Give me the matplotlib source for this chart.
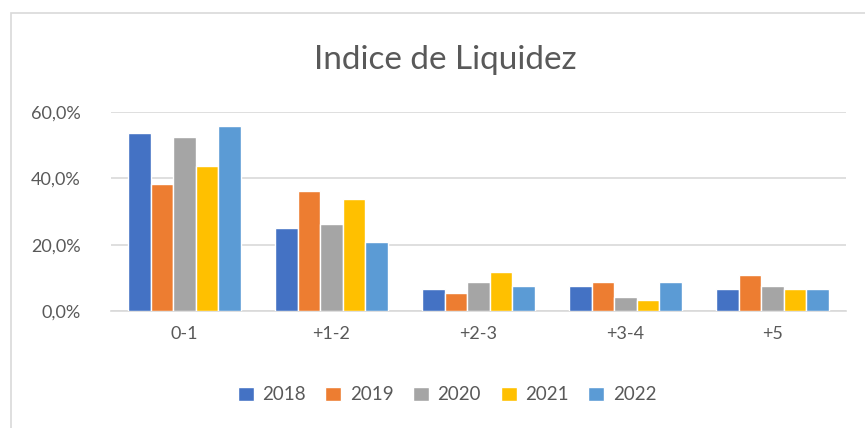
import matplotlib

matplotlib.use("Agg")

import matplotlib.pyplot as plt  # noqa: E402
import numpy as np  # noqa: E402
from matplotlib.patches import Rectangle  # noqa: E402
from matplotlib.ticker import FuncFormatter  # noqa: E402

plt.rcParams["font.family"] = ["Lato", "DejaVu Sans"]

categories = ["0-1", "+1-2", "+2-3", "+3-4", "+5"]
years = ["2018", "2019", "2020", "2021", "2022"]
v2018 = [0.537, 0.251, 0.065, 0.075, 0.065]
v2019 = [0.383, 0.363, 0.054, 0.087, 0.110]
v2020 = [0.526, 0.263, 0.087, 0.043, 0.075]
v2021 = [0.438, 0.339, 0.119, 0.032, 0.065]
v2022 = [0.559, 0.207, 0.075, 0.087, 0.065]
series = [v2018, v2019, v2020, v2021, v2022]
colors = ["#4472C4", "#ED7D31", "#A5A5A5", "#FFC000", "#5B9BD5"]

W, H = 865, 428
fig = plt.figure(figsize=(W / 100, H / 100), dpi=100)

# chart frame (cropped on right and bottom)
fig.patches.append(Rectangle((11 / W, -0.1), 1.0, 1 - 13 / H + 0.1, transform=fig.transFigure,
                             fill=False, edgecolor="#d9d9d9", linewidth=1.2))

ax = fig.add_axes([111 / W, 1 - 311 / H, 735 / W, 199 / H])

x = np.arange(len(categories))
step = 0.154
for i, (vals, col, yr) in enumerate(zip(series, colors, years)):
    ax.bar(x + (i - 2) * step, vals, width=step, color=col, edgecolor="white",
           linewidth=1.0, label=yr, zorder=3)

ax.set_xlim(-0.5, len(categories) - 0.5)
ax.set_ylim(0, 0.6)
ax.set_yticks([0, 0.2, 0.4, 0.6])
ax.yaxis.set_major_formatter(FuncFormatter(lambda v, _: f"{v * 100:.1f}%".replace(".", ",")))
ax.set_xticks(x)
ax.set_xticklabels(categories)
ax.grid(axis="y", color="#d9d9d9", linewidth=1.2, zorder=0)
for s in ["top", "right", "left"]:
    ax.spines[s].set_visible(False)
ax.spines["bottom"].set_color("#d9d9d9")
ax.spines["bottom"].set_linewidth(1.2)
ax.tick_params(axis="both", length=0, labelsize=13, colors="#595959")
ax.tick_params(axis="y", pad=22)
ax.tick_params(axis="x", pad=11)

fig.text(445 / W, 1 - 60 / H, "Indice de Liquidez", ha="center", va="center",
         fontsize=24, color="#595959")

ax.legend(loc="center", bbox_to_anchor=(447 / W, 1 - 395 / H), bbox_transform=fig.transFigure,
          ncol=5, frameon=False, fontsize=13.5, labelcolor="#595959", handlelength=0.85,
          handleheight=0.85, handletextpad=0.45, columnspacing=1.05)

fig.savefig("out.png", dpi=100)
